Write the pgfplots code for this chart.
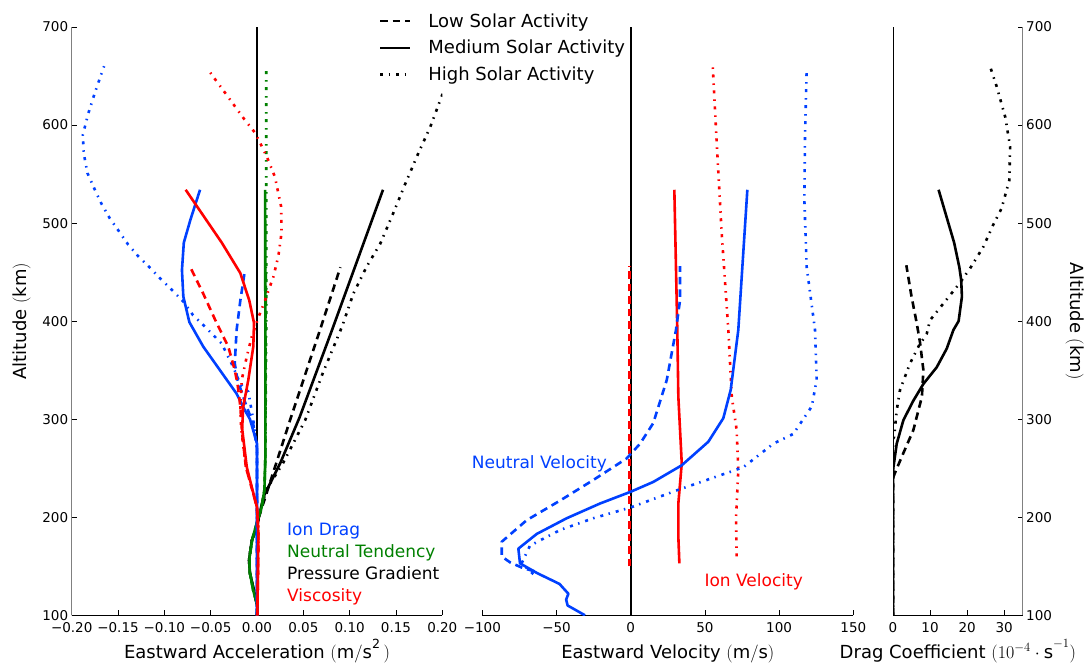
\documentclass[border=0pt]{standalone}
\usepackage{fix-cm}
\usepackage{fontspec}
\setmainfont{DejaVu Sans}
\usepackage{pgfplots}
\pgfplotsset{compat=1.18}
\definecolor{cB}{RGB}{0,64,255}
\definecolor{cG}{RGB}{0,128,0}
\definecolor{cR}{RGB}{255,0,0}
\tikzset{
 lo/.style={line width=2.6pt, dash pattern=on 7.5pt off 5pt},
 me/.style={line width=2.6pt},
 hi/.style={line width=2.6pt, dash pattern=on 3pt off 5.5pt on 1.5pt off 6pt},
}
\pgfplotsset{common/.style={scale only axis, height=588.3pt, ymin=100, ymax=700,
  ytick={100,200,300,400,500,600,700}, axis x line*=bottom,
  major tick length=5pt, tick style={black, line width=0.8pt},
  tick label style={font=\fontsize{13.5}{15}\selectfont},
  xticklabel style={yshift=-4pt},
  /pgf/number format/assume math mode=true, clip mode=individual,
  x axis line style={black, line width=1pt},
  xlabel style={font=\fontsize{18}{21}\selectfont, at={(axis description cs:0.5,-0.0731)}, anchor=base},
  ylabel style={font=\fontsize{18}{21}\selectfont},
  every axis plot/.append style={line join=round}}}
\begin{document}
\begin{tikzpicture}
\useasboundingbox (0,0) rectangle (1086pt,664pt);
% ---------------- left panel ----------------
\begin{axis}[common, at={(71.7pt,48.7pt)}, anchor=south west, width=370.6pt,
  xmin=-0.2, xmax=0.2,
  xtick={-0.2,-0.15,-0.1,-0.05,0,0.05,0.1,0.15,0.2},
  xticklabels={−0.20,−0.15,−0.10,−0.05,0.00,0.05,0.10,0.15,0.20},
  axis y line*=left, y axis line style={gray, line width=1.5pt},
  xlabel={Eastward Acceleration $(\mathrm{m/s^2}\,)$},
  ylabel={Altitude $(\mathrm{km})$},
  ylabel style={at={(axis description cs:-0.1233,0.5)}, anchor=base},
  tick align=inside,
  legend style={at={(axis description cs:0.82,1.03)}, anchor=north west, draw=none, fill=none,
    font=\fontsize{18}{21}\selectfont, row sep=7.5pt, column sep=15pt},
  legend cell align=left,
  legend image code/.code={\draw[#1] (0pt,0pt) -- (30pt,0pt);},
]
\addlegendimage{black, lo}
\addlegendimage{black, me}
\addlegendimage{black, hi}
\addplot[black, line width=2pt] coordinates {(0,100)(0,700)};
% pressure gradient
\addplot[black, lo] coordinates {(0,100)(0.0004,108)(-0.0032,125)(-0.0076,143)(-0.0086,156)(-0.0057,176)(0,190)(0.002,200)(0.019,250)(0.036,300)(0.068,391)(0.090,455)};
\addplot[black, me] coordinates {(0,100)(0.0004,108)(-0.0032,125)(-0.0076,143)(-0.0086,156)(-0.0057,176)(0,190)(0.002,200)(0.007,221)(0.025,255)(0.046,302)(0.081,391)(0.111,469)(0.136,534)};
\addplot[black, hi] coordinates {(0,100)(0.0004,108)(-0.0032,125)(-0.0076,143)(-0.0086,156)(-0.0057,176)(0,190)(0.002,200)(0.010,228)(0.028,255)(0.052,299)(0.071,347)(0.092,395)(0.104,428)(0.118,455)(0.133,479)(0.147,510)(0.160,540)(0.174,571)(0.187,598)(0.200,631)(0.212,660)};
% neutral tendency
\addplot[cG, lo] coordinates {(0,100)(0.0005,110)(-0.004,125)(-0.008,145)(-0.008,160)(-0.005,178)(0,195)(0.005,210)(0.008,228)(0.009,260)(0.0095,455)};
\addplot[cG, me] coordinates {(0,100)(0.0005,110)(-0.004,125)(-0.008,145)(-0.008,160)(-0.005,178)(0,195)(0.005,210)(0.008,228)(0.009,260)(0.009,400)(0.0088,534)};
\addplot[cG, hi] coordinates {(0,100)(0.0005,110)(-0.004,125)(-0.008,145)(-0.008,160)(-0.005,178)(0,195)(0.005,210)(0.008,228)(0.009,260)(0.010,400)(0.010,660)};
% ion drag
\addplot[cB, lo] coordinates {(0,100)(0,270)(-0.004,295)(-0.012,315)(-0.021,340)(-0.024,357)(-0.022,391)(-0.018,421)(-0.013,452)};
\addplot[cB, me] coordinates {(0,100)(0,275)(-0.003,285)(-0.0076,300)(-0.013,309)(-0.022,326)(-0.040,350)(-0.058,374)(-0.073,399)(-0.0795,425)(-0.081,452)(-0.079,480)(-0.072,503)(-0.0615,534)};
\addplot[cB, hi] coordinates {(0,100)(0,270)(-0.004,299)(-0.0094,328)(-0.018,336)(-0.0256,353)(-0.038,377)(-0.058,396)(-0.069,406)(-0.0795,420)(-0.092,432)(-0.105,444)(-0.115,454)(-0.128,466)(-0.139,478)(-0.150,493)(-0.159,505)(-0.168,520)(-0.175,534)(-0.183,551)(-0.187,571)(-0.188,590)(-0.182,612)(-0.177,627)(-0.171,644)(-0.165,660)};
% viscosity
\addplot[cR, lo] coordinates {(0.0003,100)(0.001,140)(0.0015,183)(0,210)(-0.006,231)(-0.012,251)(-0.016,285)(-0.018,313)(-0.021,336)(-0.024,350)(-0.031,374)(-0.045,401)(-0.058,428)(-0.073,457)};
\addplot[cR, me] coordinates {(0.0003,100)(0.001,140)(0.0015,183)(0,210)(-0.0057,231)(-0.011,251)(-0.016,290)(-0.015,312)(-0.0094,340)(-0.004,374)(-0.0032,398)(-0.0083,421)(-0.018,449)(-0.038,480)(-0.077,534)};
\addplot[cR, hi] coordinates {(0.0003,100)(0.001,140)(0.0015,183)(0,210)(-0.006,231)(-0.012,251)(-0.017,290)(-0.018,309)(-0.0165,340)(-0.011,364)(-0.0057,384)(0.002,405)(0.0086,421)(0.0176,445)(0.023,466)(0.0265,490)(0.026,517)(0.0194,547)(0.0105,568)(-0.002,592)(-0.013,605)(-0.033,631)(-0.054,658)};
\legend{Low Solar Activity, Medium Solar Activity, High Solar Activity}
\node[anchor=base west, text=cB, font=\fontsize{17}{20}\selectfont, inner sep=0pt] at (axis cs:0.0324,181.6) {Ion Drag};
\node[anchor=base west, text=cG, font=\fontsize{17}{20}\selectfont, inner sep=0pt] at (axis cs:0.0324,159.2) {Neutral Tendency};
\node[anchor=base west, text=black, font=\fontsize{17}{20}\selectfont, inner sep=0pt] at (axis cs:0.0324,136.7) {Pressure Gradient};
\node[anchor=base west, text=cR, font=\fontsize{17}{20}\selectfont, inner sep=0pt] at (axis cs:0.0324,114.3) {Viscosity};
\end{axis}
% ---------------- middle panel ----------------
\begin{axis}[common, at={(482.3pt,48.7pt)}, anchor=south west, width=371pt,
  xmin=-100, xmax=150, xtick={-100,-50,0,50,100,150},
  xticklabels={−100,−50,0,50,100,150},
  axis y line=none, ytick=\empty,
  xlabel={Eastward Velocity $(\mathrm{m/s})$},
  tick align=inside]
\addplot[black, line width=2pt] coordinates {(0,100)(0,700)};
\addplot[cR, lo] coordinates {(-1,150)(-1,456)};
\addplot[cR, me] coordinates {(32.8,153)(32.1,180)(32.1,214)(34.4,255)(32.1,323)(31.4,391)(29.4,534)};
\addplot[cR, hi] coordinates {(71.4,160)(71,200)(72.5,248)(71.4,289)(68.1,323)(65.8,391)(61.3,490)(58,581)(55.2,662)};
\addplot[cB, lo] coordinates {(-65,145)(-72.4,148)(-81.3,154)(-86.9,160)(-86.9,175)(-70.1,197)(-47.6,217)(-25.2,238)(-2.7,260)(6.3,275)(15.2,296)(24.3,340)(30.5,391)(33.2,421)(33.2,456)};
\addplot[cB, me] coordinates {(-30.8,100)(-42.5,110)(-43.5,116)(-42,122)(-48,132)(-63,143)(-74.6,153)(-75.7,168)(-63.3,183)(-43.1,199)(-20.7,214)(0,226)(15.2,236)(34.4,253)(52.3,277)(62.4,301)(67.4,330)(72.5,391)(78.6,534)};
\addplot[cB, hi] coordinates {(-65.6,142)(-73.5,153)(-67.9,171)(-47.6,187)(-25.2,199)(0,210)(32.1,228)(51.2,238)(75.9,251)(96.1,275)(109.6,285)(122,313)(125.3,340)(124.2,391)(118.6,455)(117,524)(117.5,592)(118.6,658)};
\node[anchor=base west, text=cB, font=\fontsize{17}{20}\selectfont, inner sep=0pt] at (axis cs:-107.1,249.7) {Neutral Velocity};
\node[anchor=base west, text=cR, font=\fontsize{17}{20}\selectfont, inner sep=0pt] at (axis cs:49.6,128.9) {Ion Velocity};
\end{axis}
% ---------------- right panel ----------------
\begin{axis}[common, at={(893pt,48.7pt)}, anchor=south west, width=129.7pt,
  xmin=0, xmax=35, xtick={0,10,20,30}, xticklabels={0,10,20,30},
  axis y line*=right, y axis line style={gray, line width=1.5pt},
  xlabel={Drag Coefficient $(10^{-4}\cdot\mathrm{s}^{-1})$},
  ylabel={Altitude $(\mathrm{km})$},
  ylabel style={at={(axis description cs:1.3647,0.5)}, rotate=180, anchor=base},
  tick align=inside]
\addplot[black, line width=1pt] coordinates {(0,100)(0,700)};
\addplot[black, lo] coordinates {(0,100)(0,240)(0.5,245)(2.4,262)(5.5,289)(7.8,323)(8.2,350)(7.3,378)(6.4,398)(5.0,425)(3.6,457)};
\addplot[black, me] coordinates {(0,100)(0,248)(1.0,275)(2.8,299)(5.5,319)(8.2,336)(11.8,353)(14.5,372)(16.3,391)(17.7,400)(18.6,425)(18.4,442)(17.9,455)(16.5,480)(12.3,534)};
\addplot[black, hi] coordinates {(0,100)(0,280)(0.3,282)(1.0,309)(1.9,330)(4.6,357)(7.0,375)(9.1,387)(10,401)(13.6,418)(17.2,435)(18.6,442)(21,455)(24.4,476)(27.0,498)(29.3,515)(31.4,544)(31.6,578)(30.3,608)(28,639)(26,662)};
\end{axis}
\end{tikzpicture}
\end{document}
